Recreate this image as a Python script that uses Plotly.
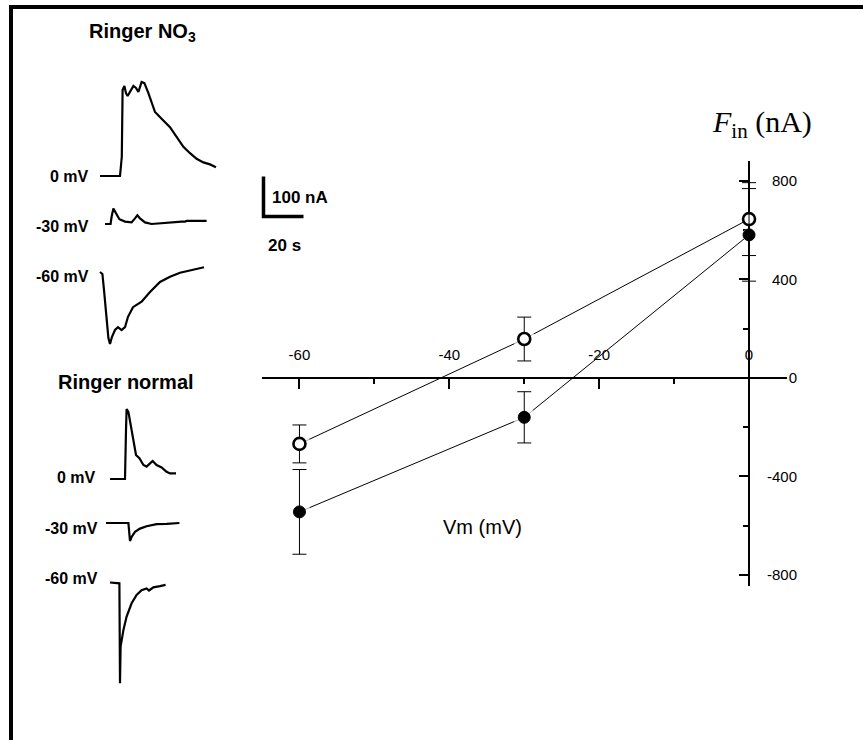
import plotly.graph_objects as go

W, H = 863, 740

# ---- I-V relation: membrane potential (mV) vs inward current F_in (nA) ----
vm = [-60, -30, 0]
fin_open = [-268, 158, 645]
err_open = [77, 89, 148]
fin_filled = [-544, -160, 581]
err_filled = [172, 104, 188]

x_tickvals = [-60, -40, -20, 0]
x_ticktext = ["-60", "-40", "-20", "0"]
y_tickvals = [800, 400, 0, -400, -800]
y_ticktext = ["800", "400", "0", "-400", "-800"]

# ---- current recordings (time in s, current in nA, baseline = 0) ----
no3_0_t = [0, 10, 10.9, 11.3, 12.2, 13, 13.8, 15, 16.7, 18, 19.2, 20.8, 22.2, 24.2,
           25.8, 27.5, 30.8, 35, 38.3, 41.7, 45, 48.3, 51.7, 55, 58]
no3_0_i = [0, 0, 48, 215, 225, 207, 200, 210, 225, 220, 210, 235, 232, 207,
           185, 160, 143, 122, 98, 73, 57, 43, 34, 29, 22]

no3_30_t = [0, 2.8, 3.3, 4.2, 5.5, 7.2, 10, 13.3, 15, 16.2, 17.5, 20, 23.3, 27.5,
            32.5, 38.3, 40, 41, 44.2, 50.8]
no3_30_i = [0, 0, 18, 39, 27, 12, 6, 4, 14, 22, 14, 4, 0, 2, 4, 6, 6, 8, 8, 8]

no3_60_t = [0, 1.2, 2, 3.2, 4.2, 5, 6, 7.5, 9, 10.8, 12.5, 14, 16.5, 20.8, 25, 30,
            35, 40, 46.5, 52]
no3_60_i = [0, -5, -45, -110, -165, -180, -162, -145, -138, -145, -138, -112, -88,
            -74, -50, -25, -12, -2, 5, 12]

nor_0_t = [0, 7.5, 8, 8.3, 9.2, 10.5, 11.7, 13, 14.7, 16.7, 18.3, 20, 21.3, 23.3,
           25.8, 28.3, 30, 33]
nor_0_i = [0, 0, 122, 175, 168, 130, 89, 60, 52, 35, 31, 39, 45, 35, 29, 18, 14, 14]

nor_30_t = [0, 11.2, 12, 12.8, 14.5, 17, 20.3, 25.3, 30.3, 36.7]
nor_30_i = [0, 0, -45, -35, -22, -14, -8, -3, -2, 0]

nor_60_t = [0, 3.3, 4.7, 5, 5.3, 6.7, 8.3, 10.8, 13.3, 15.8, 18.3, 19.5, 21.7, 25, 27.8]
nor_60_i = [0, -2, -2, -252, -160, -119, -85, -52, -31, -19, -15, -20, -12, -9, -6]

scale_na = 100   # vertical scale bar
scale_s = 20     # horizontal scale bar


def px(x):
    return x / W


def py(y):
    return 1 - y / H


# recording panel axis: 2 px per second, 0.4 px per nA, spans whole page
S_PER_PX = 0.5
NA_PER_PX = 2.5


def place(t, i, x0, y0):
    return ([x0 * S_PER_PX + v for v in t], [-y0 * NA_PER_PX + v for v in i])


fig = go.Figure()

BLACK = "#000000"

# recordings: (time, current, baseline start in page px)
recordings = [
    (no3_0_t, no3_0_i, 100, 176),
    (no3_30_t, no3_30_i, 105, 224),
    (no3_60_t, no3_60_i, 100, 272),
    (nor_0_t, nor_0_i, 110, 479),
    (nor_30_t, nor_30_i, 106, 523),
    (nor_60_t, nor_60_i, 110, 582.5),
]
for t, i, x0, y0 in recordings:
    xs, ys = place(t, i, x0, y0)
    fig.add_trace(go.Scatter(x=xs, y=ys, mode="lines", xaxis="x3", yaxis="y3",
                             line=dict(color=BLACK, width=2.2), hoverinfo="skip",
                             showlegend=False))

# scale bar
sb_x, sb_y = place([0, 0, scale_s], [scale_na, 0, 0], 263.5, 216.5)
fig.add_trace(go.Scatter(x=sb_x, y=sb_y, mode="lines", xaxis="x3", yaxis="y3",
                         line=dict(color=BLACK, width=3.5), hoverinfo="skip",
                         showlegend=False))

# I-V connecting lines
for vals in (fin_open, fin_filled):
    fig.add_trace(go.Scatter(x=vm, y=vals, mode="lines",
                             line=dict(color=BLACK, width=1), hoverinfo="skip",
                             showlegend=False))

# white halos leave a small gap between line ends and symbols
for vals in (fin_open, fin_filled):
    fig.add_trace(go.Scatter(x=vm, y=vals, mode="markers",
                             marker=dict(color="white", size=[22, 22, 13],
                                         line=dict(width=0)),
                             hoverinfo="skip", showlegend=False))

fig.add_trace(go.Scatter(
    x=vm, y=fin_open, mode="markers", showlegend=False,
    marker=dict(symbol="circle", size=12, color="white",
                line=dict(color=BLACK, width=2.6)),
    error_y=dict(type="data", array=err_open, color=BLACK, thickness=1, width=7)))
fig.add_trace(go.Scatter(
    x=vm, y=fin_filled, mode="markers", showlegend=False,
    marker=dict(symbol="circle", size=12, color=BLACK,
                line=dict(color=BLACK, width=1)),
    error_y=dict(type="data", array=err_filled, color=BLACK, thickness=1, width=7)))

# carrier for the label-only y axis
fig.add_trace(go.Scatter(x=[None], y=[None], yaxis="y2", showlegend=False,
                         hoverinfo="skip"))

XR = [-65, 5]
YR = [-845, 881]
xdom = [px(262), px(786.5)]
ydom = [py(586), py(161)]
x_at_zero = xdom[0] + (0 - XR[0]) / (XR[1] - XR[0]) * (xdom[1] - xdom[0])
y_at_zero = ydom[0] + (0 - YR[0]) / (YR[1] - YR[0]) * (ydom[1] - ydom[0])

tick_font = dict(family="Liberation Sans, Arial, sans-serif", size=15, color=BLACK)

fig.update_layout(
    width=W, height=H, autosize=False,
    margin=dict(l=0, r=0, t=0, b=0, pad=0),
    paper_bgcolor="white", plot_bgcolor="rgba(0,0,0,0)",
    showlegend=False,
    xaxis=dict(domain=xdom, range=XR, anchor="free", position=y_at_zero,
               side="top", showline=True, linecolor=BLACK, linewidth=1.8,
               ticks="inside", ticklen=10, tickwidth=1.5, tickcolor=BLACK,
               tickvals=x_tickvals, ticktext=x_ticktext, tickfont=tick_font,
               ticklabelstandoff=11,
               minor=dict(ticks="inside", ticklen=5, tickwidth=1.5,
                          tickcolor=BLACK, dtick=10, tick0=0, showgrid=False),
               showgrid=False, zeroline=False, layer="below traces"),
    yaxis=dict(domain=ydom, range=YR, anchor="free", position=x_at_zero,
               side="right", showline=True, linecolor=BLACK, linewidth=1.8,
               ticks="inside", ticklen=9, tickwidth=1.5, tickcolor=BLACK,
               tickvals=y_tickvals, showticklabels=False,
               minor=dict(ticks="inside", ticklen=5, tickwidth=1.5,
                          tickcolor=BLACK, dtick=200, tick0=0, showgrid=False),
               showgrid=False, zeroline=False, layer="below traces"),
    yaxis2=dict(domain=ydom, range=YR, overlaying="y", anchor="free",
                position=px(797), side="left", showline=False, ticks="",
                tickvals=y_tickvals, ticktext=y_ticktext, tickfont=tick_font,
                showgrid=False, zeroline=False),
    xaxis3=dict(domain=[0, 1], range=[0, W * S_PER_PX], anchor="y3",
                visible=False, fixedrange=True),
    yaxis3=dict(domain=[0, 1], range=[-H * NA_PER_PX, 0], anchor="x3",
                visible=False, fixedrange=True),
)

# frame (top and left edges)
fig.add_shape(type="line", xref="paper", yref="paper", x0=px(9), x1=px(863),
              y0=py(7), y1=py(7), line=dict(color=BLACK, width=4))
fig.add_shape(type="line", xref="paper", yref="paper", x0=px(11), x1=px(11),
              y0=py(5), y1=py(740), line=dict(color=BLACK, width=4))

bold = dict(family="Liberation Sans, Arial, sans-serif", size=20, color=BLACK)
label_font = dict(family="Liberation Sans, Arial, sans-serif", size=16, color=BLACK)

ann = [
    ("<b>Ringer NO<sub>3</sub></b>", 142, 32, "center", bold),
    ("<b>Ringer normal</b>", 126, 382, "center", bold),
    ("<b>0 mV</b>", 91, 176, "right", label_font),
    ("<b>-30 mV</b>", 91, 227, "right", label_font),
    ("<b>-60 mV</b>", 91, 276, "right", label_font),
    ("<b>0 mV</b>", 98, 478, "right", label_font),
    ("<b>-30 mV</b>", 100, 528, "right", label_font),
    ("<b>-60 mV</b>", 100, 578, "right", label_font),
    ("<b>100 nA</b>", 300, 197, "center", dict(label_font, size=17)),
    ("<b>20 s</b>", 284, 246, "center", dict(label_font, size=17)),
    ("Vm (mV)", 483, 527, "center",
     dict(family="Liberation Sans, Arial, sans-serif", size=20, color=BLACK)),
    ("<i>F</i><sub>in</sub> (nA)", 762, 124, "center",
     dict(family="Liberation Serif, Times New Roman, serif", size=30, color=BLACK)),
]
for text, x, y, align, font in ann:
    fig.add_annotation(text=text, x=px(x), y=py(y), xref="paper", yref="paper",
                       xanchor=align, yanchor="middle", showarrow=False,
                       font=font)

fig.write_html("out.html")
